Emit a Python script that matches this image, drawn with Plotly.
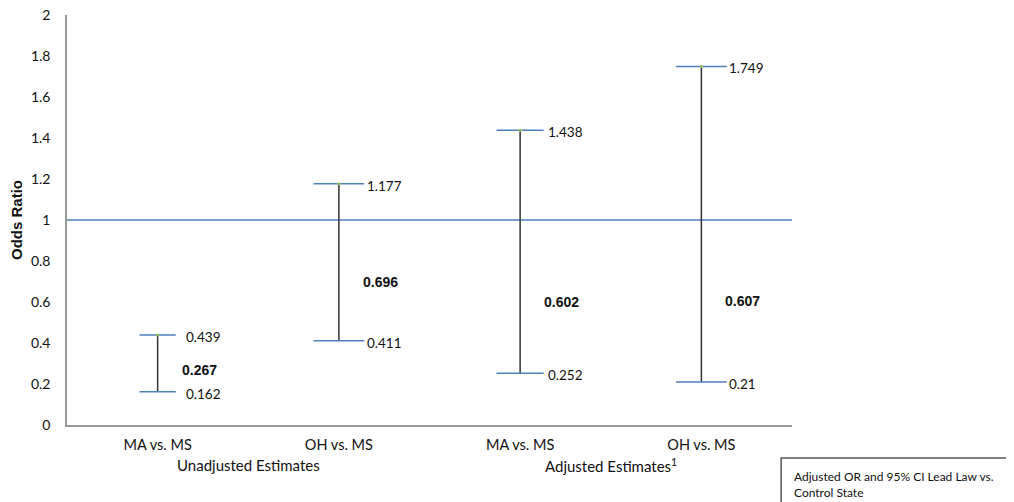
import plotly.graph_objects as go

# ---- data ----
categories = ["MA vs. MS", "OH vs. MS", "MA vs. MS", "OH vs. MS"]
groups = ["Unadjusted Estimates", "Adjusted Estimates<sup>1</sup>"]
group_members = [[0, 1], [2, 3]]
odds_ratio = [0.267, 0.696, 0.602, 0.607]
ci_lower = [0.162, 0.411, 0.252, 0.21]
ci_upper = [0.439, 1.177, 1.438, 1.749]
reference_value = 1.0
y_ticks = [0, 0.2, 0.4, 0.6, 0.8, 1, 1.2, 1.4, 1.6, 1.8, 2]
legend_text = "Adjusted OR and 95% CI Lead Law vs.<br>Control State"

# ---- style ----
cap_half = [0.10, 0.14, 0.13, 0.14]
blue = "#4F81BD"
dark = "#333333"
font_main = "Lato, 'Open Sans', sans-serif"

xs = list(range(len(categories)))
fig = go.Figure()

# reference line at OR = 1
fig.add_trace(go.Scatter(x=[-0.5, len(categories) - 0.5], y=[reference_value, reference_value],
                         mode="lines", line=dict(color=blue, width=1.5),
                         hoverinfo="skip", showlegend=False, cliponaxis=False))

# vertical CI lines
vx, vy = [], []
for i in xs:
    vx += [i, i, None]
    vy += [ci_lower[i], ci_upper[i], None]
fig.add_trace(go.Scatter(x=vx, y=vy, mode="lines", line=dict(color=dark, width=1.5),
                         hoverinfo="skip", showlegend=False))

# caps
cx, cy = [], []
for i in xs:
    for v in (ci_lower[i], ci_upper[i]):
        cx += [i - cap_half[i], i + cap_half[i], None]
        cy += [v, v, None]
fig.add_trace(go.Scatter(x=cx, y=cy, mode="lines", line=dict(color=blue, width=1.5),
                         hoverinfo="skip", showlegend=False))

# small high marker
fig.add_trace(go.Scatter(x=xs, y=ci_upper, mode="markers",
                         marker=dict(color="#9BBB59", size=3),
                         hoverinfo="skip", showlegend=False))

annotations = []
for i in xs:
    for v in (ci_lower[i], ci_upper[i]):
        annotations.append(dict(x=i, y=v, xref="x", yref="y", text=str(v),
                                showarrow=False, xanchor="left", yanchor="middle",
                                xshift=26, yshift=-2,
                                font=dict(family=font_main, size=13.5, color="#111")))
    annotations.append(dict(x=i, y=odds_ratio[i], xref="x", yref="y",
                            text="<b>%s</b>" % odds_ratio[i], showarrow=False,
                            xanchor="left", yanchor="middle", xshift=22,
                            font=dict(family="'Liberation Sans', Arial, sans-serif",
                                      size=14, color="#111")))

for g, members in zip(groups, group_members):
    annotations.append(dict(x=sum(members) / len(members), y=-0.098, xref="x", yref="paper",
                            text=g, showarrow=False, xanchor="center", yanchor="middle",
                            font=dict(family=font_main, size=15, color="#111")))

annotations.append(dict(x=1.0, y=-0.144, xref="paper", yref="paper", text=legend_text,
                        showarrow=False, xanchor="left", yanchor="middle", align="left",
                        font=dict(family=font_main, size=12, color="#111")))

fig.update_layout(
    width=1014, height=502,
    margin=dict(l=59, r=230, t=7, b=85),
    paper_bgcolor="white", plot_bgcolor="white",
    annotations=annotations,
    shapes=[dict(type="rect", xref="paper", yref="paper",
                 x0=0.985, x1=1.31, y0=-0.0805, y1=-0.2,
                 line=dict(color="#555", width=1.5), fillcolor="rgba(0,0,0,0)")],
    xaxis=dict(range=[-0.5, len(categories) - 0.5], tickvals=xs, ticktext=categories,
               automargin=False,
               showline=True, linecolor="#999", linewidth=1.5, showgrid=False,
               zeroline=False, ticks="", ticklabelstandoff=6,
               tickfont=dict(family=font_main, size=14.5, color="#111")),
    yaxis=dict(range=[0, 2], tickvals=y_ticks, showline=True, linecolor="#999", linewidth=1.5,
               automargin=False, ticklabeloverflow="allow",
               showgrid=False, zeroline=False, ticks="", ticklabelstandoff=12,
               tickfont=dict(family=font_main, size=14, color="#111"),
               title=dict(text="<b>Odds Ratio</b>", standoff=6,
                          font=dict(family="'Liberation Sans', Arial, sans-serif", size=15, color="#111"))),
)

fig.write_html("out.html")
